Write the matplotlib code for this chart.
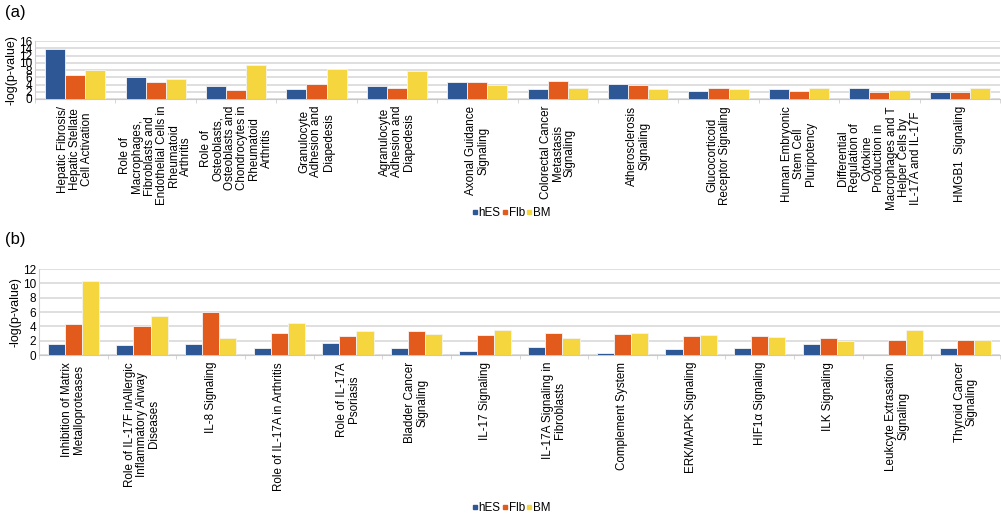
import numpy as np
import matplotlib
matplotlib.use('Agg')
import matplotlib.pyplot as plt
from matplotlib.lines import Line2D

plt.rcParams['font.family'] = ['Liberation Sans', 'DejaVu Sans']

series = ['hES', 'Flb', 'BM']
colors = ['#2E5895', '#E35B1C', '#F6D63F']

# Panel (a)
cats_a = [
    'Hepatic Fibrosis/\nHepatic Stellate\nCell Activation',
    'Role of\nMacrophages,\nFibroblasts and\nEndothelial Cells in\nRheumatoid\nArthritis',
    'Role of\nOsteoblasts,\nOsteoblasts and\nChondrocytes in\nRheumatoid\nArthritis',
    'Granulocyte\nAdhesion and\nDiapedesis',
    'Agranulocyte\nAdhesion and\nDiapedesis',
    'Axonal Guidance\nSignaling',
    'Colorectal Cancer\nMetastasis\nSignaling',
    'Atherosclerosis\nSignaling',
    'Glucocorticoid\nReceptor Signaling',
    'Human Embryonic\nStem Cell\nPluripotency',
    'Differential\nRegulation of\nCytokine\nProduction in\nMacrophages and T\nHelper Cells by\nIL-17A and IL-17F',
    'HMGB1  Signaling',
]
hes_a = [13.9, 6.1, 3.7, 2.7, 3.6, 4.65, 2.8, 4.2, 2.3, 2.8, 2.9, 2.0]
flb_a = [6.6, 4.65, 2.6, 4.1, 2.9, 4.8, 5.1, 3.8, 3.1, 2.1, 2.0, 2.0]
bm_a = [8.0, 5.5, 9.4, 8.2, 7.6, 3.9, 3.0, 2.8, 2.7, 3.1, 2.6, 2.9]

# Panel (b)
cats_b = [
    'Inhibition of Matrix\nMetalloproteases',
    'Role of IL-17F inAllergic\nInflammatory Airway\nDiseases',
    'IL-8 Signaling',
    'Role of IL-17A in Arthritis',
    'Role of IL-17A\nPsoriasis',
    'Bladder Cancer\nSignaling',
    'IL-17 Signaling',
    'IL-17A Signaling in\nFibroblasts',
    'Complement System',
    'ERK/MAPK Signaling',
    'HIF1α Signaling',
    'ILK Signaling',
    'Leukcyte Extrasation\nSignaling',
    'Thyroid Cancer\nSignaling',
]
hes_b = [1.5, 1.4, 1.6, 0.93, 1.7, 1.0, 0.6, 1.1, 0.28, 0.8, 1.0, 1.6, 0.0, 0.93]
flb_b = [4.35, 4.0, 6.0, 3.1, 2.6, 3.3, 2.85, 3.1, 2.95, 2.66, 2.7, 2.4, 2.15, 2.05]
bm_b = [10.3, 5.46, 2.4, 4.5, 3.3, 2.9, 3.45, 2.4, 3.1, 2.75, 2.5, 2.0, 3.55, 2.15]

fig = plt.figure(figsize=(10.01, 5.14), dpi=100)
ax_a = fig.add_axes([0.035, 0.8074, 0.964, 0.1128])
ax_b = fig.add_axes([0.039, 0.3093, 0.960, 0.1673])

w = 0.25


def draw(ax, cats, vals, ymax):
    x = np.arange(len(cats))
    for i, (v, c) in enumerate(zip(vals, colors)):
        ax.bar(x + (i - 1) * w, v, w, color=c, edgecolor='#f4f4f4',
               linewidth=0.6, zorder=3)
    ax.set_xlim(-0.5, len(cats) - 0.5)
    ax.set_ylim(0, ymax)
    ax.set_yticks(np.arange(0, ymax + 1, 2))
    ax.yaxis.grid(True, color='#d9d9d9', linewidth=1.2, zorder=0)
    ax.set_xticks(x)
    ax.set_xticklabels(cats, rotation=90, ha='center', va='top',
                       multialignment='center', linespacing=1.02, fontsize=8.4)
    ax.set_xticks(np.arange(len(cats) + 1) - 0.5, minor=True)
    ax.tick_params(axis='x', which='major', length=0, pad=5)
    ax.tick_params(axis='x', which='minor', length=3, color='#d0d0d0')
    ax.tick_params(axis='y', length=0, pad=2, labelsize=8.5)
    for s in ['top', 'right']:
        ax.spines[s].set_visible(False)
    ax.spines['left'].set_color('#d0d0d0')
    ax.spines['bottom'].set_color('#c8c8c8')
    ax.set_ylabel('-log(p-value)', fontsize=9, labelpad=1)


draw(ax_a, cats_a, [hes_a, flb_a, bm_a], 16)
draw(ax_b, cats_b, [hes_b, flb_b, bm_b], 12)

fig.text(0.005, 0.975, '(a)', fontsize=12, va='center')
fig.text(0.005, 0.535, '(b)', fontsize=12, va='center')

handles = [Line2D([], [], marker='s', linestyle='none', color=c,
                  markersize=2.5) for c in colors]
for y in [0.586, 0.012]:
    fig.legend(handles, series, loc='center', bbox_to_anchor=(0.511, y),
               ncol=3, frameon=False, fontsize=8.4, handlelength=0.4,
               handletextpad=0.1, columnspacing=0.2, borderpad=0)

fig.savefig('out.png', dpi=100)
